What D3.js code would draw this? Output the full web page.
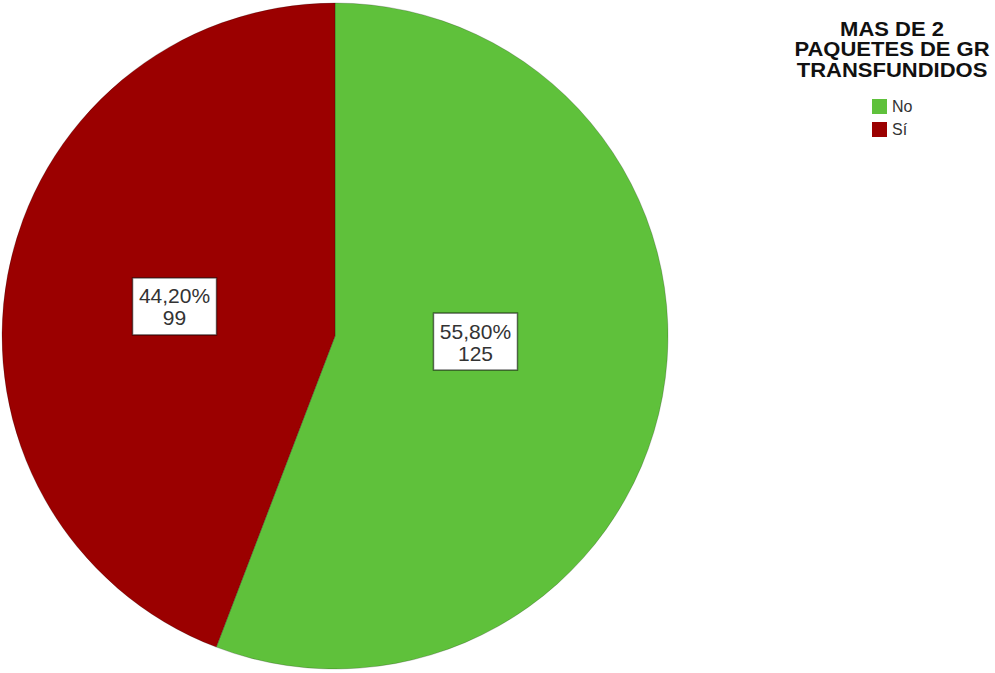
<!DOCTYPE html>
<html>
<head>
<meta charset="utf-8">
<script src="https://cdn.jsdelivr.net/npm/d3@7"></script>
<style>
  html, body { margin: 0; padding: 0; background: #ffffff; }
  svg { display: block; }
</style>
</head>
<body>
<svg id="chart" width="995" height="673"></svg>
<script>
// Respuestas y frecuencias
const categories = ["No", "Sí"];
const counts = [125, 99];
const percentLabels = ["55,80%", "44,20%"];
const sliceColors = ["#5fc13b", "#9b0000"];
const legendTitle = ["MAS DE 2", "PAQUETES DE GR", "TRANSFUNDIDOS"];

const svg = d3.select("#chart");
const width = 995, height = 673;
const cx = 335, cy = 336, radius = 333;

const data = categories.map((c, i) => ({ category: c, count: counts[i], label: percentLabels[i], color: sliceColors[i] }));

// "No" runs clockwise from 12 o'clock, "Sí" fills the rest
const pie = d3.pie().value(d => d.count).sort(null);
const arcs = pie(data);

const arc = d3.arc().innerRadius(0).outerRadius(radius);

const g = svg.append("g").attr("transform", `translate(${cx},${cy})`);

g.selectAll("path.slice")
  .data(arcs)
  .enter().append("path")
  .attr("class", "slice")
  .attr("d", arc)
  .attr("fill", d => d.data.color)
  .attr("stroke", "rgba(0,0,0,0.25)")
  .attr("stroke-width", 0.8);

// Value labels: white boxes near the slice centroids
const labelArc = d3.arc().innerRadius(0).outerRadius(radius * 0.98);
const labelNudge = { "No": [-20, -24], "Sí": [0, 0] };
const boxW = 84, boxH = 57, lineGap = 24, fontSize = 21;

const labels = g.selectAll("g.vlabel")
  .data(arcs)
  .enter().append("g")
  .attr("class", "vlabel")
  .attr("transform", d => {
    const [x, y] = labelArc.centroid(d);
    const n = labelNudge[d.data.category];
    return `translate(${x + n[0]},${y + n[1]})`;
  });

labels.append("rect")
  .attr("x", -boxW / 2)
  .attr("y", -boxH / 2)
  .attr("width", boxW)
  .attr("height", boxH)
  .attr("fill", "#ffffff")
  .attr("stroke", "rgba(0,0,0,0.55)")
  .attr("stroke-width", 1.5);

labels.append("text")
  .attr("text-anchor", "middle")
  .attr("y", -3)
  .attr("font-family", "Liberation Sans, Arial, sans-serif")
  .attr("font-size", fontSize)
  .attr("fill", "#333333")
  .text(d => d.data.label);

labels.append("text")
  .attr("text-anchor", "middle")
  .attr("y", -3 + lineGap - 2)
  .attr("font-family", "Liberation Sans, Arial, sans-serif")
  .attr("font-size", fontSize)
  .attr("fill", "#333333")
  .text(d => d.data.count);

// Legend
const legend = svg.append("g").attr("transform", "translate(892,0)");

legend.selectAll("text.ltitle")
  .data(legendTitle)
  .enter().append("text")
  .attr("class", "ltitle")
  .attr("x", 0)
  .attr("y", (d, i) => 36 + i * 20.5)
  .attr("text-anchor", "middle")
  .attr("font-family", "Liberation Sans, Arial, sans-serif")
  .attr("font-weight", "bold")
  .attr("font-size", 20)
  .attr("fill", "#111111")
  .attr("transform", "scale(1.1,1)")
  .text(d => d);

const items = legend.selectAll("g.litem")
  .data(data)
  .enter().append("g")
  .attr("class", "litem")
  .attr("transform", (d, i) => `translate(-20,${99 + i * 23})`);

items.append("rect")
  .attr("width", 15)
  .attr("height", 15)
  .attr("fill", d => d.color);

items.append("text")
  .attr("x", 20)
  .attr("y", 13)
  .attr("font-family", "Liberation Sans Narrow, Liberation Sans, Arial, sans-serif")
  .attr("font-stretch", "condensed")
  .attr("font-size", 16)
  .attr("fill", "#333333")
  .text(d => d.category);
</script>
</body>
</html>
